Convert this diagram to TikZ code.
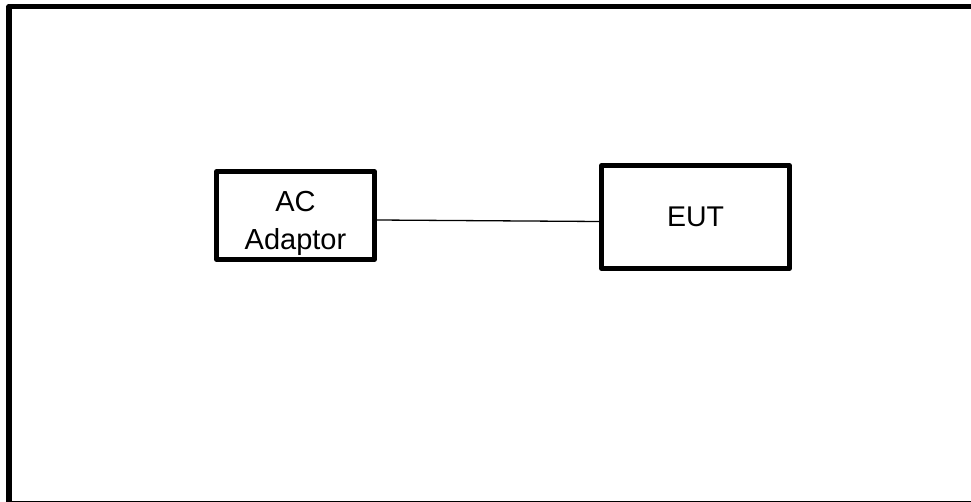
\documentclass[tikz,border=0pt]{standalone}
\usepackage{fontspec}
\setmainfont{Liberation Sans}
\begin{document}
\begin{tikzpicture}[x=1pt,y=-1pt,
  frame/.style={draw=black, line width=5.5pt, line join=round},
  box/.style={draw=black, line width=4.6pt, line join=round, rectangle, inner sep=0pt,
    font=\fontsize{28.5}{33}\selectfont},
  lbl/.style={inner sep=0pt, font=\fontsize{29}{33}\selectfont},
  wire/.style={draw=black, line width=1.3pt}]
\useasboundingbox (0,0) rectangle (971,502);
\begin{scope}
\clip (0,0) rectangle (971,502);
\draw[frame] (9,6.5) rectangle (990,504.2);
\end{scope}
\node[box, minimum width=158pt, minimum height=88pt] (ac) at (295.5,215.5) {};
\begin{scope}
\clip ([xshift=3pt,yshift=-3pt]ac.north west) rectangle ([xshift=-3pt,yshift=3.5pt]ac.south east);
\node[lbl, anchor=base] (acl1) at (295.5,212) {AC};
\node[lbl, anchor=base] (acl2) at (295.5,250) {Adaptor};
\end{scope}
\node[box, minimum width=188pt, minimum height=103pt] (eut) at (695.5,217) {EUT};
\draw[wire] ([yshift=-4.5pt]ac.east) -- ([yshift=-4.5pt]eut.west);
\end{tikzpicture}
\end{document}
